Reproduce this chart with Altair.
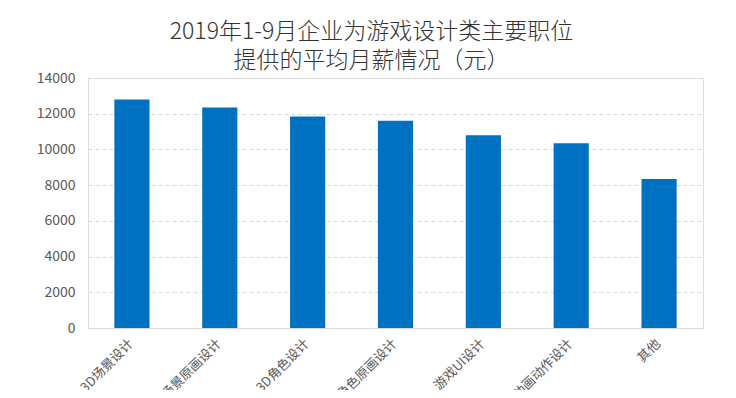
import altair as alt
import pandas as pd

categories = ["3D场景设计", "2D场景原画设计", "3D角色设计", "2D角色原画设计", "游戏UI设计", "游戏动画动作设计", "其他"]
salaries = [12800, 12350, 11850, 11600, 10800, 10350, 8350]
y_ticks = [0, 2000, 4000, 6000, 8000, 10000, 12000, 14000]

df = pd.DataFrame({"job": categories, "salary": salaries})

chart = (
    alt.Chart(df)
    .mark_bar(color="#0070C0")
    .encode(
        x=alt.X(
            "job:N",
            sort=categories,
            title=None,
            scale=alt.Scale(paddingInner=0.6, paddingOuter=0.3),
            axis=alt.Axis(
                labelAngle=-45,
                labelFontSize=13,
                labelColor="#595959",
                labelFont="Noto Sans CJK SC",
                ticks=False,
                grid=False,
                labelPadding=9,
                labelOffset=-5,
                domainColor="#d9d9d9",
                labelLimit=300,
            ),
        ),
        y=alt.Y(
            "salary:Q",
            title=None,
            scale=alt.Scale(domain=[0, 14000], nice=False),
            axis=alt.Axis(
                values=y_ticks,
                format="d",
                labelFontSize=14,
                labelColor="#595959",
                labelFont="Noto Sans CJK SC",
                ticks=False,
                domain=False,
                labelPadding=13,
                gridColor="#d9d9d9",
                gridDash=[4, 3],
            ),
        ),
    )
    .properties(
        width=615,
        height=250,
        autosize=alt.AutoSizeParams(type="none"),
        padding={"left": 80, "top": 70, "right": 25, "bottom": 62},
        title=alt.TitleParams(
            text="2019年1-9月企业为游戏设计类主要职位",
            subtitle="提供的平均月薪情况（元）",
            font="Noto Sans CJK SC",
            fontSize=23,
            fontWeight=300,
            color="#333333",
            subtitleFont="Noto Sans CJK SC",
            subtitleFontSize=23,
            subtitleFontWeight=300,
            subtitleColor="#333333",
            subtitlePadding=6,
            anchor="middle",
            offset=6,
            dx=-24,
            dy=8,
        ),
    )
    .configure_view(stroke="transparent", strokeWidth=0)
    .configure(background="white")
)

chart.save("out.html", embed_options={"renderer": "svg", "actions": False})
